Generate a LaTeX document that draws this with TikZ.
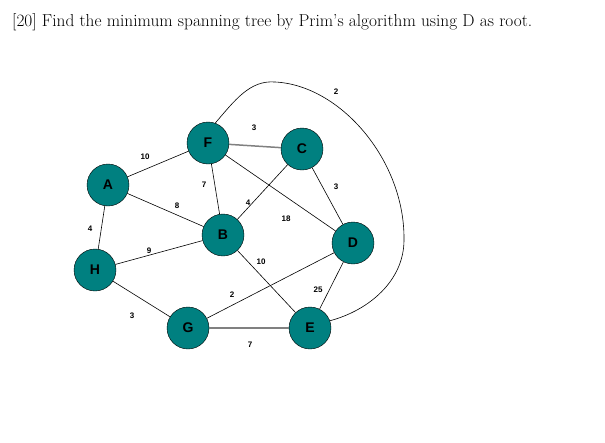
\documentclass[tikz,border=0pt]{standalone}
\usepackage{fontspec}
\newfontfamily\arialf{Liberation Sans}
\definecolor{teal1}{RGB}{0,128,128}
\begin{document}
\begin{tikzpicture}[x=1pt,y=-1pt,
  vert/.style={circle,draw=black,fill=teal1,minimum size=42pt,inner sep=0pt,font=\arialf\bfseries\fontsize{14}{14}\selectfont},
  wl/.style={font=\arialf\bfseries\fontsize{8}{8}\selectfont,inner sep=0pt},
  ed/.style={draw=black,line width=0.6pt},
  gr/.style={draw=gray,line width=1.5pt}]
\useasboundingbox (0,0) rectangle (605,442);
\node[anchor=west,font=\fontsize{17.3}{17.3}\selectfont,inner sep=0pt] (title) at (12,22) {[20] Find the minimum spanning tree by Prim's algorithm using D as root.};
\node[vert] (F) at (208,143) {F};
\node[vert] (C) at (302,149) {C};
\node[vert] (A) at (108,185) {A};
\node[vert] (B) at (223,235) {B};
\node[vert] (D) at (353,243) {D};
\node[vert] (H) at (95,270) {H};
\node[vert] (G) at (188,328) {G};
\node[vert] (E) at (310,328) {E};
\path[gr] (F) -- (C);
\path[gr] (G) -- (E);
\path[ed] (A) -- (F);
\path[ed] (A) -- (B);
\path[ed] (A) -- (H);
\path[ed] (F) -- (B);
\path[ed] (F) -- (D);
\path[ed] (C) -- (B);
\path[ed] (C) -- (D);
\path[ed] (H) -- (B);
\path[ed] (B) -- (E);
\path[ed] (H) -- (G);
\path[ed] (G) -- (D);
\path[ed] (D) -- (E);
\coordinate (top) at (275,82);
\coordinate (rt) at (404,240);
\path[ed] (F.70) .. controls (235,100) and (250,80) .. (top) .. controls (340,85) and (405,160) .. (rt) .. controls (404,280) and (370,310) .. (E.20);
\node[wl] (l1) at (145,157) {10};
\node[wl] (l2) at (254,128) {3};
\node[wl] (l3) at (204,185) {7};
\node[wl] (l4) at (177,206) {8};
\node[wl] (l5) at (248,203) {4};
\node[wl] (l6) at (286,219) {18};
\node[wl] (l7) at (336,187) {3};
\node[wl] (l8) at (90,229) {4};
\node[wl] (l9) at (149,251) {9};
\node[wl] (l10) at (261,262) {10};
\node[wl] (l11) at (232,295) {2};
\node[wl] (l12) at (318,290) {25};
\node[wl] (l13) at (132,316) {3};
\node[wl] (l14) at (250,345) {7};
\node[wl] (l15) at (336,92) {2};
\end{tikzpicture}
\end{document}
